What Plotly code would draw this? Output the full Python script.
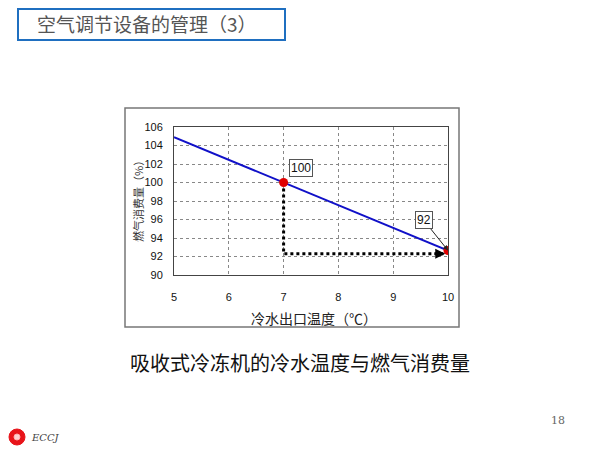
import plotly.graph_objects as go

# Data
x_temp = [5, 6, 7, 8, 9, 10]
y_gas = [104.9, 102.45, 100.0, 97.55, 95.1, 92.65]
pts_x = [7, 10]
pts_y = [100.0, 92.65]
guide_x = [7, 7, 9.93]
guide_y = [100.0, 92.3, 92.3]
x_ticks = [5, 6, 7, 8, 9, 10]
y_ticks = [90, 92, 94, 96, 98, 100, 102, 104, 106]

OFF = 8  # page body margin
W, H = 600 - OFF, 450 - OFF
L, R, T, B = 174, 448, 127, 275  # plot area in page pixels


def px(xp):
    return (xp - L) / (R - L)


def py(yp):
    return (B - yp) / (B - T)


fig = go.Figure()
fig.add_trace(go.Scatter(x=x_temp, y=y_gas, mode="lines",
                         line=dict(color="#1010C8", width=2), showlegend=False))
fig.add_trace(go.Scatter(x=guide_x, y=guide_y, mode="lines",
                         line=dict(color="black", width=3, dash="dot"), showlegend=False))
fig.add_trace(go.Scatter(x=pts_x, y=pts_y, mode="markers",
                         marker=dict(color="#E00000", size=9), showlegend=False))

tickfont = dict(family="Liberation Sans Narrow, Liberation Sans, Arial", size=11, color="#111")
fig.update_xaxes(range=[5, 10], tickvals=x_ticks, showgrid=True, gridcolor="#888",
                 griddash="dot", gridwidth=1, showline=True, linecolor="#444", mirror=True,
                 ticks="", tickfont=tickfont, ticklabelstandoff=12, zeroline=False)
fig.update_yaxes(range=[90, 106], tickvals=y_ticks, showgrid=True, gridcolor="#888",
                 griddash="dot", gridwidth=1, showline=True, linecolor="#444", mirror=True,
                 ticks="", tickfont=tickfont, ticklabelstandoff=8, zeroline=False)

lblfont = dict(family="Liberation Sans Narrow, Liberation Sans", size=12, color="#111")
anns = [
    # arrow head of guide line
    dict(x=9.95, y=92.3, ax=-12, ay=0, xref="x", yref="y", showarrow=True,
         arrowhead=2, arrowsize=1, arrowwidth=2, arrowcolor="black", text=""),
    # 92 label with arrow
    dict(x=10, y=92.65, ax=-24, ay=-30, xref="x", yref="y", showarrow=True,
         arrowhead=2, arrowsize=1, arrowwidth=1, arrowcolor="#222", text="92",
         bordercolor="#555", borderwidth=1, bgcolor="white", borderpad=1, font=lblfont),
    # 100 label
    dict(x=7.32, y=101.57, xref="x", yref="y", showarrow=False, text="100",
         bordercolor="#555", borderwidth=1, bgcolor="white", borderpad=1, font=lblfont),
    # y title
    dict(x=px(138), y=py(199), xref="paper", yref="paper", showarrow=False,
         xanchor="center", yanchor="middle",
         text="燃气消费量（%）", textangle=-90,
         font=dict(family="Noto Sans CJK SC", size=11, color="#333")),
    # x title
    dict(x=px(314), y=py(318), xref="paper", yref="paper", showarrow=False,
         xanchor="center", yanchor="middle",
         text="冷水出口温度（℃）",
         font=dict(family="Noto Sans CJK SC", size=14, color="#222")),
    # slide title
    dict(x=px(35), y=py(24), xref="paper", yref="paper", showarrow=False,
         xanchor="left", yanchor="middle", text="空气调节设备的管理（3）",
         font=dict(family="Noto Sans CJK SC", size=19, color="#555")),
    # caption
    dict(x=px(300), y=py(362), xref="paper", yref="paper", showarrow=False,
         xanchor="center", yanchor="middle",
         text="吸收式冷冻机的冷水温度与燃气消费量",
         font=dict(family="Noto Sans CJK SC", size=20, color="#111")),
    # page number
    dict(x=px(558), y=py(420), xref="paper", yref="paper", showarrow=False,
         xanchor="center", yanchor="middle",
         text="18", font=dict(family="DejaVu Serif", size=11, color="#666")),
    # ECCJ
    dict(x=px(29), y=py(437), xref="paper", yref="paper", showarrow=False,
         xanchor="left", yanchor="middle", text="<i>ECCJ</i>",
         font=dict(family="DejaVu Serif", size=10, color="#444")),
]
for a in anns:
    fig.add_annotation(**a)

shapes = [
    dict(type="rect", xref="paper", yref="paper", x0=px(125), x1=px(459),
         y0=py(327), y1=py(108), line=dict(color="#777", width=1.5), layer="below"),
    dict(type="rect", xref="paper", yref="paper", x0=px(18), x1=px(285),
         y0=py(40), y1=py(9), line=dict(color="#1F6FC0", width=2)),
    dict(type="circle", xref="paper", yref="paper", x0=px(9), x1=px(25),
         y0=py(445), y1=py(429), line=dict(color="#E8141A", width=1), fillcolor="#E8141A"),
    dict(type="circle", xref="paper", yref="paper", x0=px(14), x1=px(20),
         y0=py(440), y1=py(434), line=dict(color="#FFB0B0", width=1), fillcolor="#FFD0D0"),
]
for s in shapes:
    fig.add_shape(**s)

fig.update_layout(width=W, height=H,
                  margin=dict(l=L - OFF, r=W - (R - OFF), t=T - OFF, b=H - (B - OFF)),
                  paper_bgcolor="white", plot_bgcolor="white")
fig.write_html("out.html")
